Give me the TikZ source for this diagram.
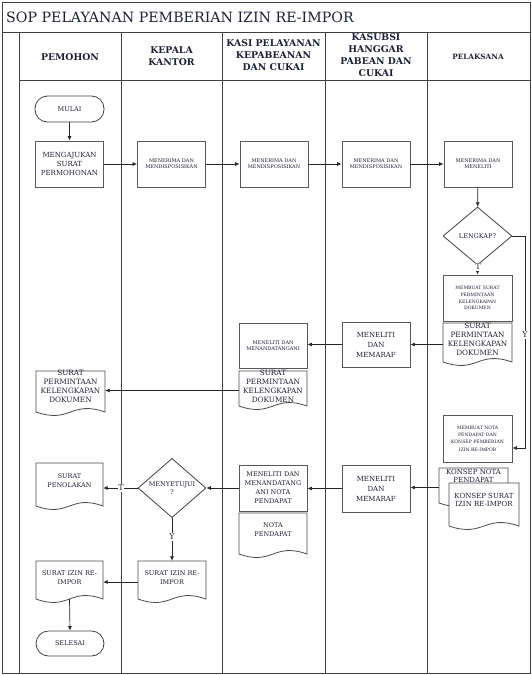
\documentclass[tikz,border=0pt]{standalone}
\usepackage{fontspec}
\setmainfont{DejaVu Serif}
\usetikzlibrary{shapes.geometric,arrows.meta,calc}
\definecolor{txt}{RGB}{30,32,55}
\tikzset{
 frameline/.style={draw=black!75, line width=0.9pt},
 procbox/.style={draw=black!65, line width=0.9pt, fill=white, minimum width=68pt, minimum height=46pt, inner sep=1pt, align=center, text=txt},
 termbox/.style={draw=black!75, line width=0.8pt, rounded corners=12.5pt, minimum width=69pt, minimum height=26pt, align=center, text=txt, font=\fontsize{6.5}{8}\selectfont},
 decbox/.style={diamond, draw=black!75, line width=0.8pt, inner sep=0pt, align=center, text=txt, font=\fontsize{6.5}{8}\selectfont},
 docnode/.style={draw=none, inner sep=0pt},
 docline/.style={draw=black!70, line width=0.8pt, fill=white},
 doctext/.style={align=center, text=txt, inner sep=0pt},
 arr/.style={draw=black!85, line width=0.7pt, -{Latex[length=4.5pt,width=4pt]}},
 lbl/.style={font=\fontsize{8}{9}\selectfont, text=txt, fill=white, inner sep=0.6pt},
 hdr/.style={align=center, text=txt, font=\bfseries\fontsize{9.3}{12}\selectfont},
 small/.style={font=\fontsize{5}{6}\selectfont},
 mid/.style={font=\fontsize{7}{9.3}\selectfont},
}
% name, x1, y1, x2, y2, ytext, font, text
\newcommand\Doc[8]{%
 \node[docnode, minimum width={#4-#2}, minimum height={#5-#3}] (#1) at ({(#2+#4)/2},{(#3+#5)/2}) {};
 \draw[docline] (#2,#3) -- (#4,#3) -- (#4,#5-4) .. controls ({(#2+#4)/2},#5-16) and ({(#2+#4)/2},#5+8) .. (#2,#5-4) -- cycle;
 \node[doctext, font=#7] (#1-t) at ({(#2+#4)/2},#6) {#8};
}
\begin{document}
\begin{tikzpicture}[x=1pt,y=-1pt]
\useasboundingbox (0,0) rectangle (532,675);
% frame and lanes
\draw[frameline] (2,2) rectangle (530,673);
\draw[frameline] (2,32) -- (530,32);
\draw[frameline] (19,80) -- (530,80);
\foreach \xx in {19,121,222,325,427} \draw[frameline] (\xx,32) -- (\xx,673);
\node[anchor=west, text=txt, font=\fontsize{14.2}{16}\selectfont, inner sep=0pt] (title) at (6,17) {SOP PELAYANAN PEMBERIAN IZIN RE-IMPOR};
% headers
\node[hdr] (h1) at (70,57) {PEMOHON};
\node[hdr] (h2) at (171.5,56) {KEPALA\\KANTOR};
\node[hdr] (h3) at (273.5,55) {KASI PELAYANAN\\KEPABEANAN\\DAN CUKAI};
\node[hdr] (h4) at (376,55.5) {KASUBSI\\HANGGAR\\PABEAN DAN\\CUKAI};
\node[hdr, font=\bfseries\fontsize{7.3}{8}\selectfont] (h5) at (478,57) {PELAKSANA};
% row 1
\node[termbox] (mulai) at (69.5,109) {MULAI};
\node[procbox, mid] (ajukan) at (69.5,164) {MENGAJUKAN\\SURAT\\PERMOHONAN};
\node[procbox, small] (kk1) at (171.5,164) {MENERIMA DAN\\MENDISPOSISIKAN};
\node[procbox, small] (kasi1) at (274,164) {MENERIMA DAN\\MENDISPOSISIKAN};
\node[procbox, small] (ksb1) at (376,164) {MENERIMA DAN\\MENDISPOSISIKAN};
\node[procbox, small] (pel1) at (478,164) {MENERIMA DAN\\MENELITI};
\node[decbox, minimum width=69pt, minimum height=58pt] (lengkap) at (477.5,236) {LENGKAP?};
\node[procbox, font=\fontsize{4.6}{6.7}\selectfont, minimum width=69pt] (membuat1) at (477.5,298) {MEMBUAT SURAT\\PERMINTAAN\\KELENGKAPAN\\DOKUMEN};
\Doc{docpel}{443}{323}{512}{366}{339.5}{\fontsize{7.3}{9}\selectfont}{SURAT\\PERMINTAAN\\KELENGKAPAN\\DOKUMEN}
\node[procbox, font=\fontsize{7}{10}\selectfont, minimum height=45pt] (ksb2) at (376,344.5) {MENELITI\\DAN\\MEMARAF};
\node[procbox, small, minimum height=45pt] (kasi2) at (273,345.5) {MENELITI DAN\\MENANDATANGANI};
\Doc{dockasi}{239}{371}{307}{410}{386.5}{\fontsize{7.3}{9}\selectfont}{SURAT\\PERMINTAAN\\KELENGKAPAN\\DOKUMEN}
\Doc{docpem}{36}{371}{105}{416}{386.5}{\fontsize{7.3}{9}\selectfont}{SURAT\\PERMINTAAN\\KELENGKAPAN\\DOKUMEN}
% lower part
\node[procbox, font=\fontsize{4.6}{7.3}\selectfont, minimum width=69pt, minimum height=47pt] (membuat2) at (477.5,438.5) {MEMBUAT NOTA\\PENDAPAT DAN\\KONSEP PEMBERIAN\\IZIN RE-IMPOR};
\Doc{konsepnota}{439}{468}{508}{507}{476}{\fontsize{7}{8.3}\selectfont}{KONSEP NOTA\\PENDAPAT}
\Doc{konsepsurat}{449}{483}{519}{530}{500}{\fontsize{7}{8.8}\selectfont}{KONSEP SURAT\\IZIN RE-IMPOR}
\node[procbox, font=\fontsize{7}{10}\selectfont, minimum height=47pt] (ksb3) at (376,488.5) {MENELITI\\DAN\\MEMARAF};
\node[procbox, font=\fontsize{6.5}{9}\selectfont] (kasi3) at (273,488) {MENELITI DAN\\MENANDATANG\\ANI NOTA\\PENDAPAT};
\Doc{nota}{239}{513}{307}{558}{530}{\fontsize{6.5}{9}\selectfont}{NOTA\\PENDAPAT}
\node[decbox, minimum width=68pt, minimum height=50pt] (setuju) at (172,488) {MENYETUJUI\\?};
\Doc{tolak}{36}{463}{103}{510}{480.5}{\fontsize{6.5}{9}\selectfont}{SURAT\\PENOLAKAN}
\Doc{kkizin}{138}{561}{206}{603}{577.5}{\fontsize{6.5}{9}\selectfont}{SURAT IZIN RE-\\IMPOR}
\Doc{pemizin}{36}{561}{103}{603}{577.5}{\fontsize{6.5}{9}\selectfont}{SURAT IZIN RE-\\IMPOR}
\node[termbox, minimum width=68pt, minimum height=25pt] (selesai) at (70,643.5) {SELESAI};
% connectors
\draw[arr] (mulai) -- (ajukan);
\draw[arr] (ajukan) -- (kk1);
\draw[arr] (kk1) -- (kasi1);
\draw[arr] (kasi1) -- (ksb1);
\draw[arr] (ksb1) -- (pel1);
\draw[arr] (pel1) -- (lengkap);
\draw[arr] (lengkap) -- (membuat1);
\node[lbl] (tlab1) at (478,267) {T};
\coordinate (yA) at (525,236);
\coordinate (yB) at (525,448);
\draw[arr] (lengkap.east) -- (yA) -- (yB) -- (yB -| membuat2.east);
\node[lbl] (ylab1) at (525,335) {Y};
\draw[arr] (docpel.west) -- (docpel.west -| ksb2.east);
\draw[arr] (ksb2.west) -- (ksb2.west -| kasi2.east);
\draw[arr] (dockasi.west) -- (dockasi.west -| docpem.east);
\draw[arr] (konsepnota.west) -- (konsepnota.west -| ksb3.east);
\draw[arr] (ksb3.west) -- (ksb3.west -| kasi3.east);
\draw[arr] (kasi3.west) -- (setuju.east);
\draw[arr] (setuju.west) -- (setuju.west -| tolak.east);
\node[lbl] (tlab2) at (121,488) {T};
\draw[arr] (setuju.south) -- (kkizin.north);
\node[lbl] (ylab2) at (172,537) {Y};
\draw[arr] (kkizin.west) -- (kkizin.west -| pemizin.east);
\draw[arr] ([yshift=4pt]pemizin.south) -- (selesai.north);
\end{tikzpicture}
\end{document}
